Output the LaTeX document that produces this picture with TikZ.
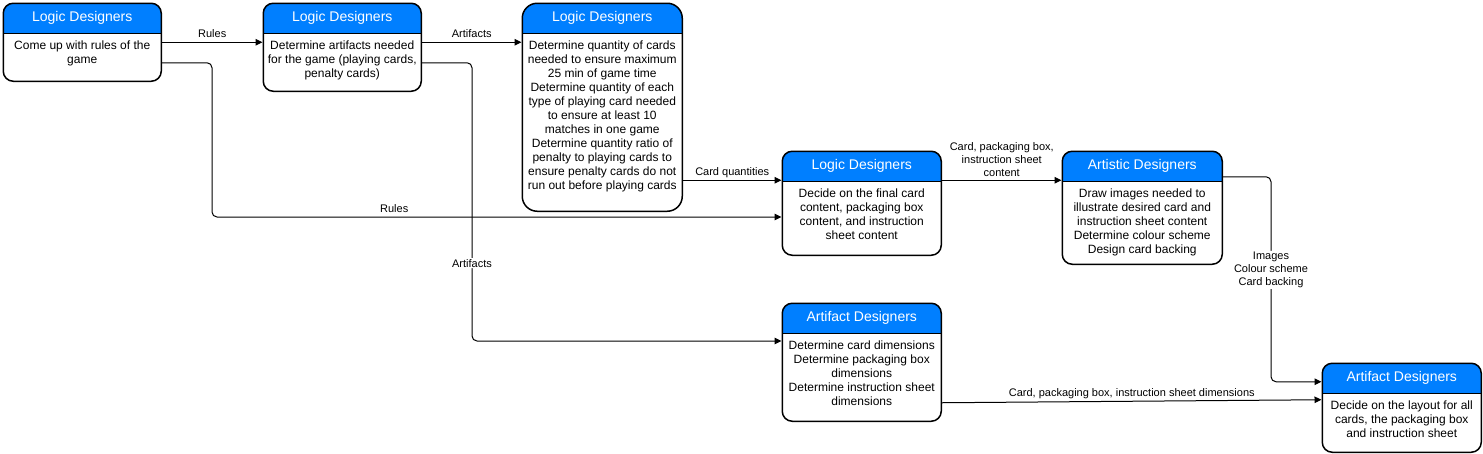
\documentclass[tikz,border=0pt]{standalone}
\usepackage{fontspec}
\setmainfont{Liberation Sans}
\usetikzlibrary{calc}
\usetikzlibrary{positioning}
\usetikzlibrary{arrows.meta}
\definecolor{headblue}{RGB}{0,127,255}
\tikzset{
    lanebox/.style={
        draw,                  % 边框
        line width=1.5pt,      % 边框粗细
        rounded corners=10pt,  % 圆角
        fill=white,
        inner sep=0pt,
        anchor=north west,
        path picture={
            \fill[headblue, sharp corners] (path picture bounding box.north west)
                rectangle ([yshift=-30pt]path picture bounding box.north east);
            \draw[line width=1.2pt, sharp corners] ([yshift=-30pt]path picture bounding box.north west)
                -- ([yshift=-30pt]path picture bounding box.north east);
        }
    },
    lanehead/.style={text=white, font=\fontsize{14}{16}\selectfont, inner sep=0pt},
    lanetext/.style={anchor=north, align=center, inner sep=0pt, font=\fontsize{12}{14}\selectfont},
    flow/.style={-{Triangle[length=7pt,width=6.5pt]}, line width=1pt, rounded corners=5pt},
    flowlabel/.style={font=\fontsize{11}{13}\selectfont, inner sep=0pt, anchor=base, yshift=4.5pt},
    stacklabel/.style={font=\fontsize{11}{13}\selectfont, align=center, inner sep=0pt, anchor=south, yshift=3pt},
    onlabel/.style={font=\fontsize{11}{13}\selectfont, align=center, fill=white, inner sep=1pt}
}
\begin{document}
\begin{tikzpicture}[x=1pt, y=-1pt]
\useasboundingbox (0,0) rectangle (1483,453);

% 定义框
\node[lanebox, minimum width=158pt, minimum height=78pt]  (b1) at (2.5,2.5) {};
\node[lanebox, minimum width=158pt, minimum height=88pt]  (b2) at (262.5,2.5) {};
\node[lanebox, minimum width=160pt, minimum height=208pt, rounded corners=15pt] (b3) at (521.5,2.5) {};
\node[lanebox, minimum width=159pt, minimum height=104pt] (b4) at (781.5,150.5) {};
\node[lanebox, minimum width=160pt, minimum height=113pt] (b5) at (1061.5,150.5) {};
\node[lanebox, minimum width=159pt, minimum height=118pt] (b6) at (781.5,302.5) {};
\node[lanebox, minimum width=159pt, minimum height=89pt]  (b7) at (1321.5,362.5) {};

\node[lanehead] (h1) at ([yshift=-15pt]b1.north) {Logic Designers};
\node[lanehead] (h2) at ([yshift=-15pt]b2.north) {Logic Designers};
\node[lanehead] (h3) at ([yshift=-15pt]b3.north) {Logic Designers};
\node[lanehead] (h4) at ([yshift=-15pt]b4.north) {Logic Designers};
\node[lanehead] (h5) at ([yshift=-15pt]b5.north) {Artistic Designers};
\node[lanehead] (h6) at ([yshift=-15pt]b6.north) {Artifact Designers};
\node[lanehead] (h7) at ([yshift=-15pt]b7.north) {Artifact Designers};

\node[lanetext] (t1) at ([yshift=-38pt]b1.north) {Come up with rules of the\\game};
\node[lanetext] (t2) at ([yshift=-38pt]b2.north) {Determine artifacts needed\\for the game (playing cards,\\penalty cards)};
\node[lanetext] (t3) at ([yshift=-38pt]b3.north) {Determine quantity of cards\\needed to ensure maximum\\25 min of game time\\Determine quantity of each\\type of playing card needed\\to ensure at least 10\\matches in one game\\Determine quantity ratio of\\penalty to playing cards to\\ensure penalty cards do not\\run out before playing cards};
\node[lanetext] (t4) at ([yshift=-38pt]b4.north) {Decide on the final card\\content, packaging box\\content, and instruction\\sheet content};
\node[lanetext] (t5) at ([yshift=-38pt]b5.north) {Draw images needed to\\illustrate desired card and\\instruction sheet content\\Determine colour scheme\\Design card backing};
\node[lanetext] (t6) at ([yshift=-38pt]b6.north) {Determine card dimensions\\Determine packaging box\\dimensions\\Determine instruction sheet\\dimensions};
\node[lanetext] (t7) at ([yshift=-38pt]b7.north) {Decide on the layout for all\\cards, the packaging box\\and instruction sheet};

% 定义点
\coordinate (P1) at (212,217);
\coordinate (P2) at (472,341);
\coordinate (P3) at (1271,0);
\coordinate (C4) at ([yshift=23pt]b4.west);
\coordinate (C7) at ([yshift=26pt]b7.west);

% 连线
\draw[flow] (b1.east) -- node[flowlabel] {Rules} (b1.east -| b2.west);
\draw[flow] (b1.east -| b2.east) -- node[flowlabel] {Artifacts} (b1.east -| b3.west);
\draw[flow] ([yshift=-20.5pt]b1.east) -| (P1) -- node[flowlabel, pos=0.32] {Rules} (P1 -| b4.west);
\draw[flow] ([yshift=-15.5pt]b2.east) -| node[onlabel, pos=0.86] {Artifacts} (P2) -- (P2 -| b6.west);
\draw[flow] (C4 -| b3.east) -- node[flowlabel] {Card quantities} (C4);
\draw[flow] (C4 -| b4.east) -- node[stacklabel] {Card, packaging box,\\instruction sheet\\content} (C4 -| b5.west);
\draw[flow] ([yshift=31pt]b5.east) -| node[onlabel, pos=0.727] {Images\\Colour scheme\\Card backing} (C7 -| P3) -- (C7);
\draw[flow] ([yshift=-40.5pt]b6.east) -- node[flowlabel] {Card, packaging box, instruction sheet dimensions} ([yshift=8pt]b7.west);

\end{tikzpicture}
\end{document}
